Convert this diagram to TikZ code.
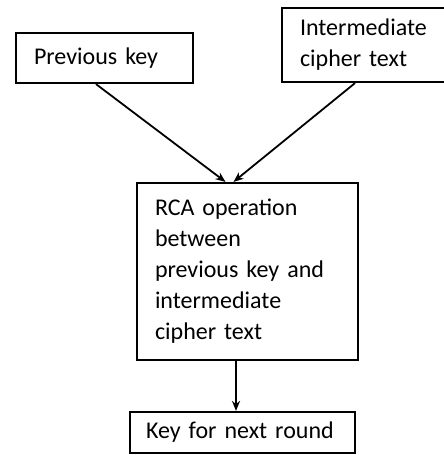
\documentclass[tikz,border=0pt]{standalone}
\usepackage{fontspec}
\setmainfont{Carlito}
\usepackage{tikz}
\usetikzlibrary{positioning,arrows.meta}

\begin{document}
\begin{tikzpicture}[x=1pt,y=1pt,
    box/.style={draw,line width=2.2pt,align=left,inner xsep=18pt,
        font=\fontsize{24}{31}\selectfont},
    arr/.style={line width=1.8pt,-{Stealth[length=10pt,width=8pt]}}]
    \useasboundingbox (0,0) rectangle (444,455);
    \node [box,text width=141pt,minimum height=50pt] (prev) at (104.5,397) {Previous key};
    \node [box,text width=139pt,minimum height=74pt] (inter) at (369.5,410) {Intermediate\\cipher text};
    \node [box,text width=185pt,minimum height=177pt] (rca) at (247.5,183.5)
        {RCA operation\\between\\previous key and\\intermediate\\cipher text};
    \node [box,text width=193pt,inner xsep=16pt,minimum height=41pt] (next) at (242.5,22.5)
        {Key~for~next~round};
    \draw[arr] ([xshift=-8.5pt]prev.south) -- ([xshift=-22pt]rca.north);
    \draw[arr] ([xshift=-14.5pt]inter.south) -- ([xshift=-14pt]rca.north);
    \draw[arr] ([xshift=-11.5pt]rca.south) -- ([xshift=-11.5pt]rca.south |- next.north);
\end{tikzpicture}
\end{document}
